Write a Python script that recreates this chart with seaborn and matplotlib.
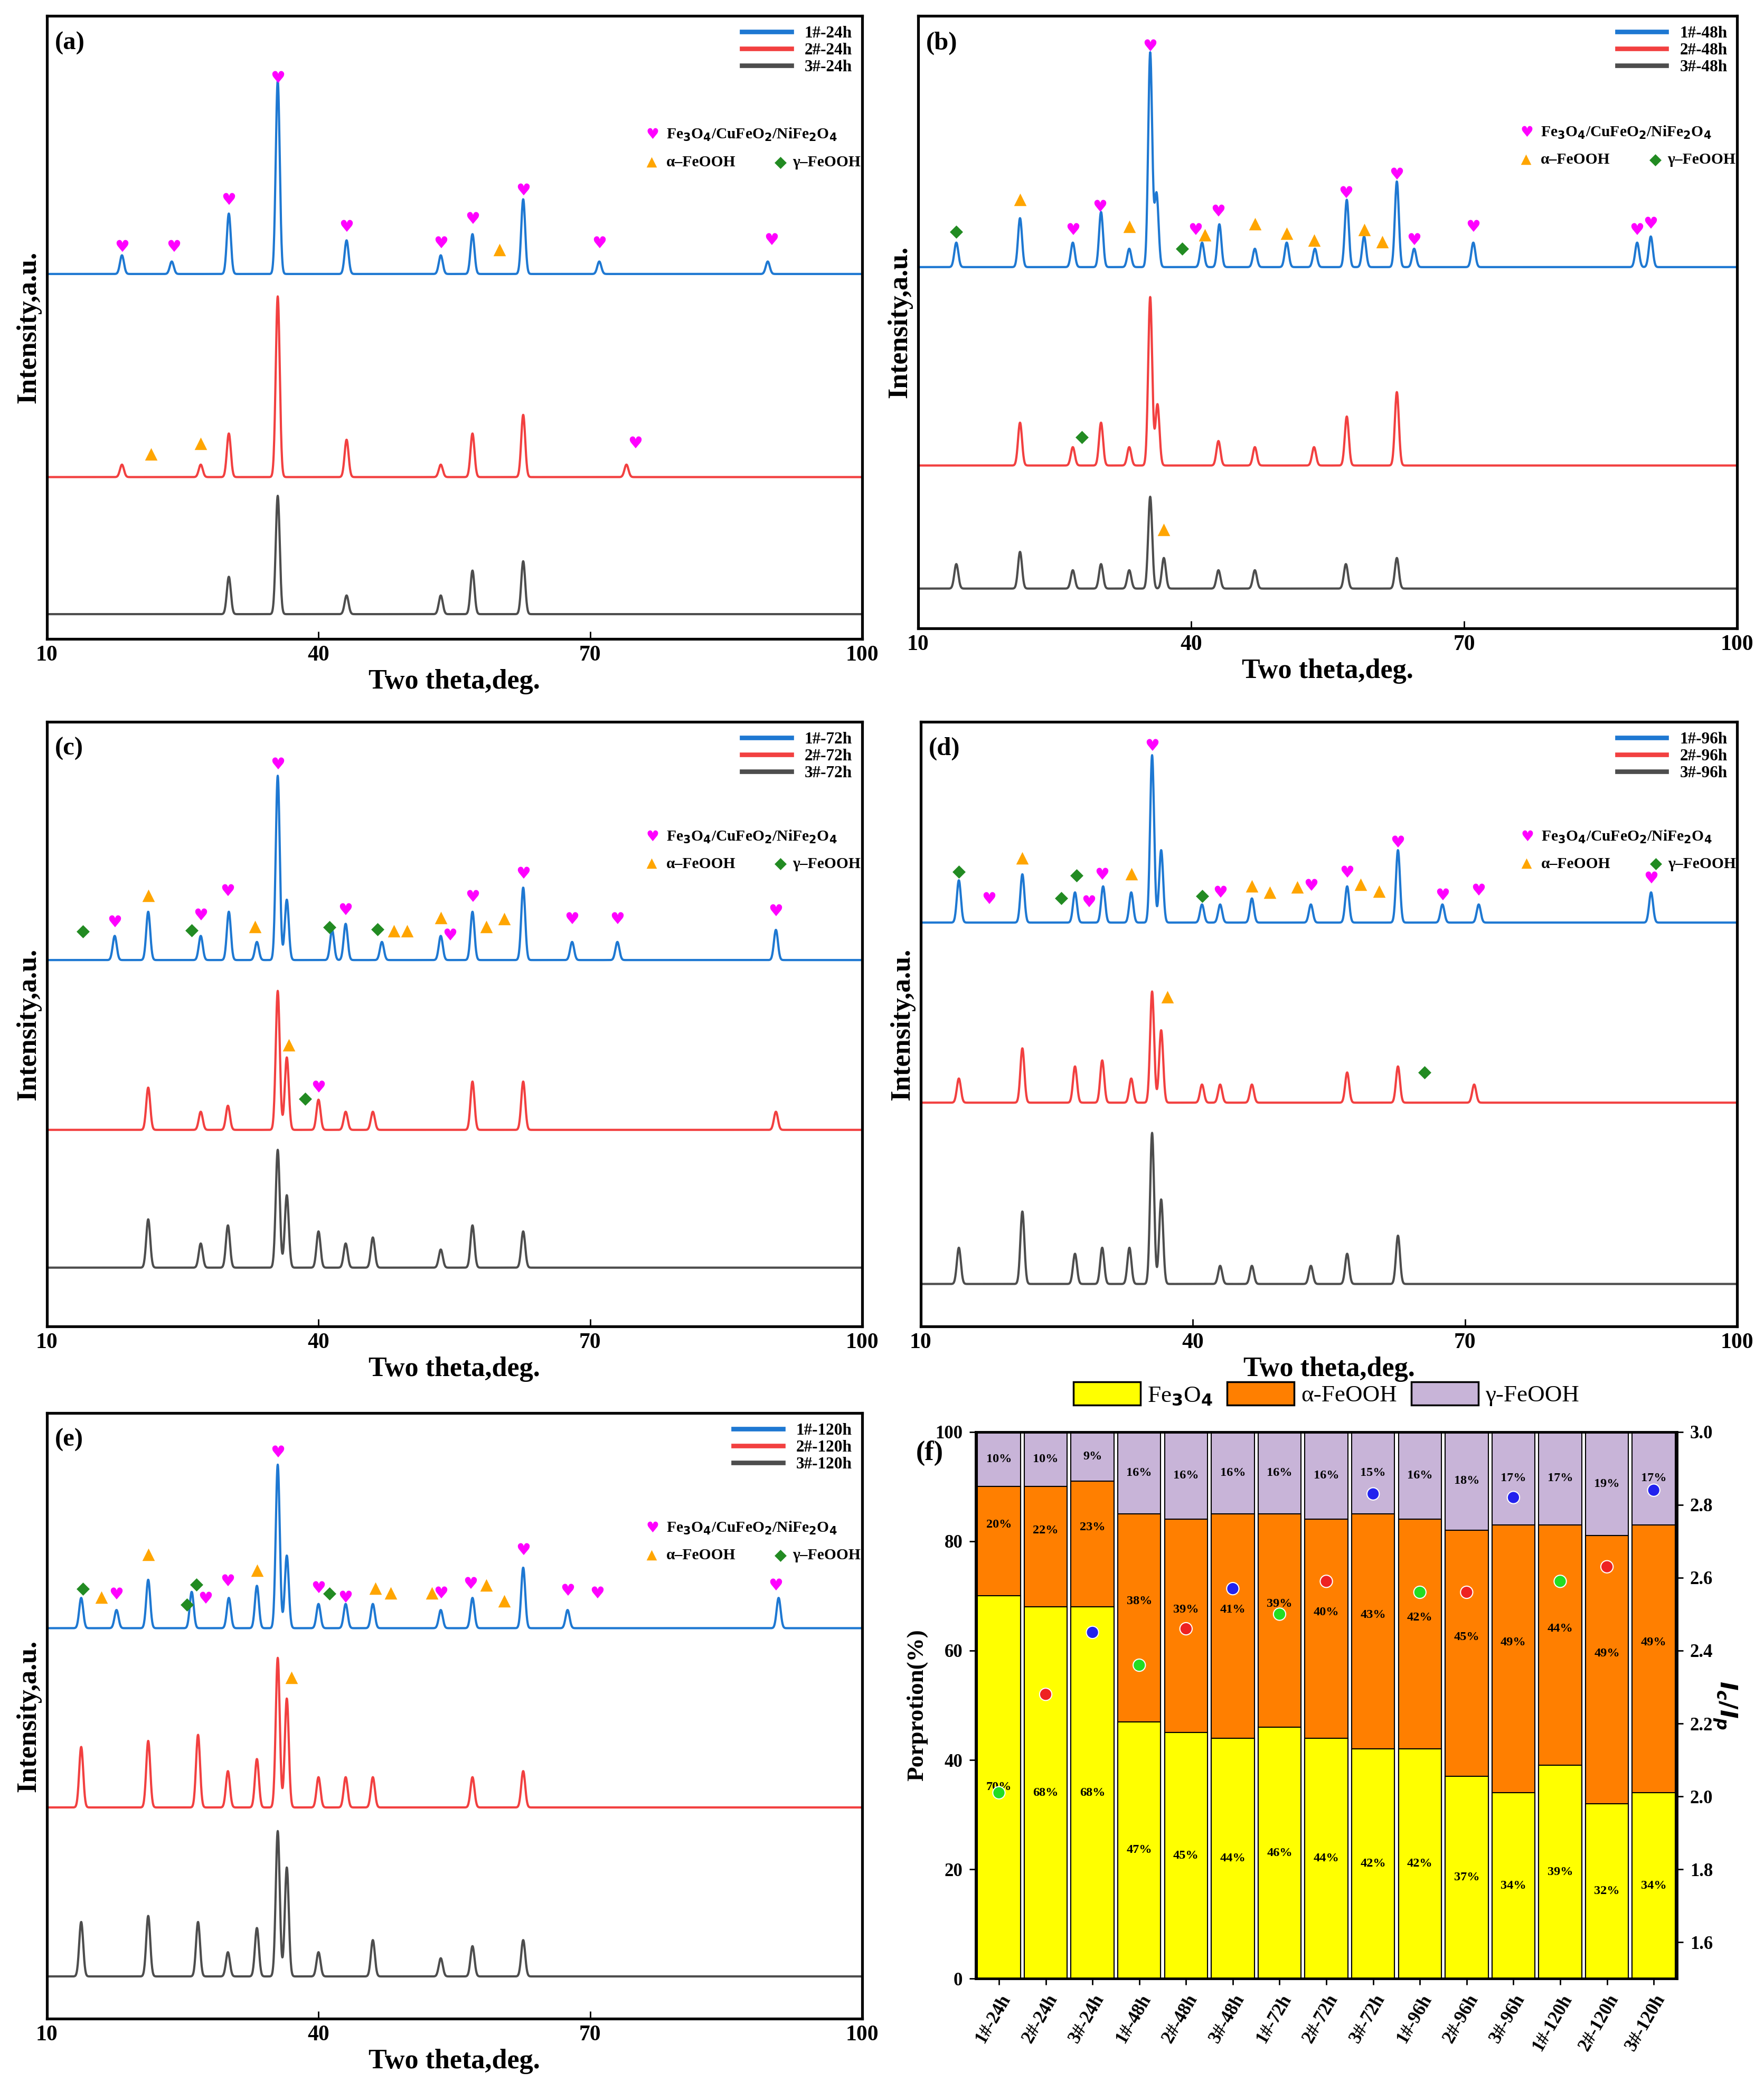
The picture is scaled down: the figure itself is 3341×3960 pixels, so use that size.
import numpy as np
import pandas as pd
import matplotlib
matplotlib.use("Agg")
import matplotlib.pyplot as plt
import seaborn as sns
from matplotlib.lines import Line2D
from matplotlib.patches import Patch

plt.rcParams["font.family"] = "Liberation Serif"
plt.rcParams["font.weight"] = "bold"
plt.rcParams["axes.labelweight"] = "bold"

# ---------------- data: XRD peaks (position, height) ----------------
a_blue_base, a_red_base, a_grey_base = 58.6, 26.0, 4.0
a_blue = [(18.3, 3), (23.8, 2), (30.1, 9.7), (35.5, 31), (43.1, 5.4), (53.5, 3), (57.0, 6.4), (62.6, 12), (71, 2), (89.6, 2)]
a_red = [(18.3, 2), (27, 2), (30.1, 7), (35.5, 29), (43.1, 6), (53.5, 2), (57.0, 7), (62.6, 10), (74, 2)]
a_grey = [(30.1, 6), (35.5, 19), (43.1, 3), (53.5, 3), (57.0, 7), (62.6, 8.5)]

b_blue_base, b_red_base, b_grey_base = 59.0, 26.6, 6.5
b_blue = [(14.2, 4), (21.2, 8), (27, 4), (30.1, 9), (33.2, 3), (35.5, 35), (36.2, 12), (41.2, 4), (43.1, 7), (47, 3),
          (50.5, 4), (53.6, 3), (57.1, 11), (59, 5), (62.6, 14), (64.5, 3), (71, 4), (89, 4), (90.5, 5)]
b_red = [(21.2, 7), (27, 3), (30.1, 7), (33.2, 3), (35.5, 27.5), (36.3, 10), (43, 4), (47, 3), (53.5, 3), (57.1, 8), (62.6, 12)]
b_grey = [(14.2, 4), (21.2, 6), (27, 3), (30.1, 4), (33.2, 3), (35.5, 15), (37, 5), (43, 3), (47, 3), (57, 4), (62.6, 5)]

c_blue_base, c_red_base, c_grey_base = 60.6, 32.5, 9.7
c_blue = [(17.5, 4), (21.2, 8), (27, 4), (30.1, 8), (33.2, 3), (35.5, 30.5), (36.5, 10), (41.5, 5), (43, 6), (47, 3),
          (53.5, 4), (57, 8), (62.6, 12), (68, 3), (73, 3), (90.5, 5)]
c_red = [(21.2, 7), (27, 3), (30, 4), (35.5, 23), (36.5, 12), (40, 5), (43, 3), (46, 3), (57, 8), (62.6, 8), (90.5, 3)]
c_grey = [(21.2, 8), (27, 4), (30, 7), (35.5, 19.5), (36.5, 12), (40, 6), (43, 4), (46, 5), (53.5, 3), (57, 7), (62.6, 6)]

d_blue_base, d_red_base, d_grey_base = 66.8, 37.0, 7.0
d_blue = [(14.2, 7), (21.2, 8), (27, 5), (30.1, 6), (33.2, 5), (35.5, 27.7), (36.5, 12), (41, 3), (43, 3), (46.5, 4),
          (53, 3), (57, 6), (62.6, 12), (67.5, 3), (71.5, 3), (90.5, 5)]
d_red = [(14.2, 4), (21.2, 9), (27, 6), (30, 7), (33.2, 4), (35.5, 18.4), (36.5, 12), (41, 3), (43, 3), (46.5, 3), (57, 5), (62.6, 6), (71, 3)]
d_grey = [(14.2, 6), (21.2, 12), (27, 5), (30, 6), (33, 6), (35.5, 25), (36.5, 14), (43, 3), (46.5, 3), (53, 3), (57, 5), (62.6, 8)]

e_blue_base, e_red_base, e_grey_base = 64.5, 34.9, 7.0
e_blue = [(13.8, 5), (17.7, 3), (21.2, 8), (26, 6), (30.1, 5), (33.2, 7), (35.5, 27), (36.5, 12), (40, 4), (43, 4),
          (46, 4), (53.5, 3), (57, 5), (62.6, 10), (67.5, 3), (90.8, 5)]
e_red = [(13.8, 10), (21.2, 11), (26.7, 12), (30, 6), (33.2, 8), (35.5, 24.7), (36.5, 18), (40, 5), (43, 5), (46, 5), (57, 5), (62.6, 6)]
e_grey = [(13.8, 9), (21.2, 10), (26.7, 9), (30, 4), (33.2, 8), (35.5, 24), (36.5, 18), (40, 4), (46, 6), (53.5, 3), (57, 5), (62.6, 6)]

# phase markers: (2theta, height) ; H = Fe3O4 heart, A = alpha-FeOOH, G = gamma-FeOOH
a_marks = {"H": [(18.3, 62.9), (24, 62.9), (30.1, 70.4), (35.5, 90), (43.1, 66.1), (53.5, 63.5), (57, 67.4), (62.6, 71.9),
                 (71, 63.5), (90, 64), (75, 31.3)],
           "A": [(60, 62.4), (21.5, 29.6), (27, 31.3)], "G": []}
b_marks = {"H": [(27, 65), (30, 68.8), (35.5, 95), (40.5, 65), (43, 68), (57, 71), (62.6, 74), (64.5, 63.3), (71, 65.5), (89, 65), (90.5, 66)],
           "A": [(21.2, 69.9), (33.2, 65.5), (41.5, 64.2), (47, 66), (50.5, 64.4), (53.5, 63.3), (59, 65), (61, 63), (37, 16)],
           "G": [(14.2, 64.8), (39, 62), (28, 31.2)]}
c_marks = {"H": [(17.5, 66.8), (27, 67.9), (30, 71.9), (35.5, 92.9), (43, 68.8), (54.5, 64.6), (57, 71), (62.6, 74.8), (68, 67.3), (73, 67.3), (90.5, 68.6), (40, 39.4)],
           "A": [(21.2, 71.2), (33, 66), (48.3, 65.3), (49.8, 65.3), (53.5, 67.5), (58.5, 66), (60.5, 67.3), (36.7, 46.5)],
           "G": [(14, 65.3), (26, 65.5), (41.2, 66), (46.5, 65.7), (38.5, 37.6)]}
d_marks = {"H": [(17.5, 70.6), (28.5, 70.1), (30, 74.6), (35.5, 96), (43, 71.7), (53, 72.8), (57, 75), (62.6, 80), (67.5, 71.2), (71.5, 72), (90.5, 74)],
           "A": [(21.2, 77.4), (33.2, 74.8), (46.5, 72.8), (48.5, 71.7), (51.5, 72.6), (58.5, 73), (60.5, 71.9), (37.2, 54.4)],
           "G": [(14.2, 75.2), (25.5, 70.8), (27.2, 74.6), (41, 71.2), (65.5, 42)]}
e_marks = {"H": [(17.7, 70), (27.5, 69.3), (30, 72.2), (35.5, 93.4), (40, 71), (43, 69.5), (53.5, 70.2), (56.8, 71.7), (62.6, 77.3), (67.5, 70.6), (70.8, 70.2), (90.5, 71.5)],
           "A": [(16, 69.5), (21.2, 76.6), (33.2, 74), (46.3, 71), (48, 70.2), (52.5, 70.2), (58.5, 71.5), (60.5, 68.9), (37, 56.3)],
           "G": [(14, 71), (25.5, 68.4), (26.5, 71.7), (41.2, 70.2)]}

# ---------------- data: panel f ----------------
samples = ["1#-24h", "2#-24h", "3#-24h", "1#-48h", "2#-48h", "3#-48h", "1#-72h", "2#-72h", "3#-72h",
           "1#-96h", "2#-96h", "3#-96h", "1#-120h", "2#-120h", "3#-120h"]
fe3o4 = [70, 68, 68, 47, 45, 44, 46, 44, 42, 42, 37, 34, 39, 32, 34]
alpha = [20, 22, 23, 38, 39, 41, 39, 40, 43, 42, 45, 49, 44, 49, 49]
gamma = [10, 10, 9, 16, 16, 16, 16, 16, 15, 16, 18, 17, 17, 19, 17]
ratio = [2.01, 2.28, 2.45, 2.36, 2.46, 2.57, 2.50, 2.59, 2.83, 2.56, 2.56, 2.82, 2.59, 2.63, 2.84]

BLUE, RED, GREY = "#1E78D2", "#F24040", "#4D4D4D"
W, H = 1320, 1564
fig = plt.figure(figsize=(3341 / 250, 3960 / 250), dpi=250)

def rect(l, t, r, b):
    return [l / W, 1 - b / H, (r - l) / W, (b - t) / H]

x = np.arange(10, 100.001, 0.03)

def profile(base, peaks):
    y = np.full_like(x, base)
    for p, h in peaks:
        y += h * np.exp(-(x - p) ** 2 / (2 * 0.22 ** 2))
    return y

def xrd(pos, letter, tag, curves, marks):
    ax = fig.add_axes(rect(*pos))
    frames = []
    for name, (base, peaks) in zip([f"1#-{tag}", f"2#-{tag}", f"3#-{tag}"], curves):
        frames.append(pd.DataFrame({"x": x, "y": profile(base, peaks), "s": name}))
    df = pd.concat(frames)
    sns.lineplot(data=df, x="x", y="y", hue="s", palette=[BLUE, RED, GREY], lw=1.2,
                 estimator=None, sort=False, ax=ax, legend=False)
    for px, py in marks["H"]:
        ax.text(px, py, "♥", color="#FF00FF", fontsize=9, ha="center", va="center", family="DejaVu Sans")
    for px, py in marks["A"]:
        ax.plot(px, py, marker="^", color="#FFA500", ms=5, ls="none")
    for px, py in marks["G"]:
        ax.plot(px, py, marker="D", color="#228B22", ms=4, ls="none")
    ax.set_xlim(10, 100)
    ax.set_ylim(0, 100)
    ax.set_xticks([10, 40, 70, 100])
    ax.set_yticks([])
    ax.tick_params(axis="x", labelsize=12, direction="in", length=4)
    for s in ax.spines.values():
        s.set_linewidth(1.5)
    ax.set_xlabel("Two theta,deg.", fontsize=15, labelpad=2)
    ax.set_ylabel("Intensity,a.u.", fontsize=15, labelpad=3)
    ax.text(0.01, 0.975, letter, transform=ax.transAxes, fontsize=14, fontweight="bold", va="top")
    handles = [Line2D([], [], color=c, lw=2.5) for c in [BLUE, RED, GREY]]
    ax.legend(handles, [f"1#-{tag}", f"2#-{tag}", f"3#-{tag}"], loc="upper right", frameon=False,
              fontsize=9, handlelength=3, labelspacing=0.1, borderaxespad=0.2)
    ax.text(0.735, 0.81, "♥", color="#FF00FF", fontsize=8, transform=ax.transAxes, va="center", family="DejaVu Sans")
    ax.text(0.76, 0.81, r"Fe$_3$O$_4$/CuFeO$_2$/NiFe$_2$O$_4$", fontsize=8.5, transform=ax.transAxes, va="center")
    ax.plot(0.742, 0.765, marker="^", color="#FFA500", ms=4, transform=ax.transAxes)
    ax.text(0.76, 0.765, "α–FeOOH", fontsize=8.5, transform=ax.transAxes, va="center")
    ax.plot(0.9, 0.765, marker="D", color="#228B22", ms=3.5, transform=ax.transAxes)
    ax.text(0.915, 0.765, "γ–FeOOH", fontsize=8.5, transform=ax.transAxes, va="center")
    return ax

xrd((35, 12, 645, 478), "(a)", "24h", [(a_blue_base, a_blue), (a_red_base, a_red), (a_grey_base, a_grey)], a_marks)
xrd((687, 12, 1300, 470), "(b)", "48h", [(b_blue_base, b_blue), (b_red_base, b_red), (b_grey_base, b_grey)], b_marks)
xrd((35, 540, 645, 992), "(c)", "72h", [(c_blue_base, c_blue), (c_red_base, c_red), (c_grey_base, c_grey)], c_marks)
xrd((689, 540, 1300, 992), "(d)", "96h", [(d_blue_base, d_blue), (d_red_base, d_red), (d_grey_base, d_grey)], d_marks)
xrd((35, 1057, 645, 1510), "(e)", "120h", [(e_blue_base, e_blue), (e_red_base, e_red), (e_grey_base, e_grey)], e_marks)

# ---------------- panel f ----------------
axf = fig.add_axes(rect(730, 1071, 1255, 1480))
total = [f + a + g for f, a, g in zip(fe3o4, alpha, gamma)]
fa = [f + a for f, a in zip(fe3o4, alpha)]
YEL, ORA, PUR = "#FFFF00", "#FF7F00", "#C8B4D8"
sns.barplot(x=samples, y=[100] * len(samples), color=PUR, width=0.92, edgecolor="black", linewidth=0.6, saturation=1, ax=axf)
sns.barplot(x=samples, y=fa, color=ORA, width=0.92, edgecolor="black", linewidth=0.6, saturation=1, ax=axf)
sns.barplot(x=samples, y=fe3o4, color=YEL, width=0.92, edgecolor="black", linewidth=0.6, saturation=1, ax=axf)
for i in range(len(samples)):
    axf.text(i, fe3o4[i] / 2, f"{fe3o4[i]}%", ha="center", va="center", fontsize=7)
    axf.text(i, fe3o4[i] + alpha[i] / 2 + 3, f"{alpha[i]}%", ha="center", va="center", fontsize=7)
    axf.text(i, fa[i] + (100 - fa[i]) / 2, f"{gamma[i]}%", ha="center", va="center", fontsize=7)
axf.set_ylim(0, 100)
axf.set_xlim(-0.5, len(samples) - 0.5)
axf.set_yticks([0, 20, 40, 60, 80, 100])
axf.set_ylabel("Porprotion(%)", fontsize=13)
axf.tick_params(axis="x", rotation=60, labelsize=10)
axf.tick_params(axis="y", labelsize=10)
for lbl in axf.get_xticklabels():
    lbl.set_ha("right")
    lbl.set_rotation_mode("anchor")
ax2 = axf.twinx()
dot_cols = ["#22DD22", "#EE2222", "#2222EE"] * 5
ax2.scatter(range(len(samples)), ratio, c=dot_cols, s=45, edgecolors="white", linewidths=0.6, zorder=5)
ax2.set_ylim(1.5, 3.0)
ax2.set_yticks([1.6, 1.8, 2.0, 2.2, 2.4, 2.6, 2.8, 3.0])
ax2.tick_params(labelsize=10)
ax2.set_ylabel(r"$I_c/I_p$", fontsize=13, rotation=270, labelpad=14)
for s in list(axf.spines.values()) + list(ax2.spines.values()):
    s.set_linewidth(1.3)
axf.text(-0.085, 0.985, "(f)", transform=axf.transAxes, fontsize=15, va="top")
fig.legend([Patch(facecolor=c, edgecolor="black") for c in [YEL, ORA, PUR]],
           [r"Fe$_3$O$_4$", "α-FeOOH", "γ-FeOOH"], loc="lower center",
           bbox_to_anchor=((730 + 1255) / 2 / W, 1 - 1068 / H), ncol=3, frameon=False,
           fontsize=13, handlelength=2.8, handleheight=1.1, columnspacing=0.6, handletextpad=0.3,
           prop={"weight": "normal", "size": 13})

fig.savefig("out.png", dpi=250)
